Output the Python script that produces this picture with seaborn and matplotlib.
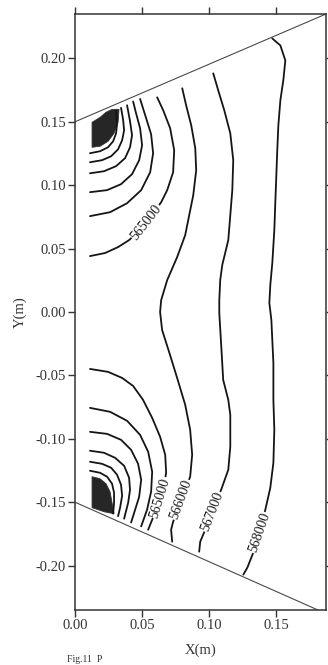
import numpy as np
import pandas as pd
import matplotlib
matplotlib.use("Agg")
import matplotlib.pyplot as plt
import seaborn as sns

# ---------------- data (data units: metres) ----------------
x_ticks = [0.00, 0.05, 0.10, 0.15]
x_tick_labels = ["0.00", "0.05", "0.10", "0.15"]
y_ticks = [-0.20, -0.15, -0.10, -0.05, 0.00, 0.05, 0.10, 0.15, 0.20]
y_tick_labels = ["-0.20", "-0.15", "-0.10", "-0.05", "0.00", "0.05", "0.10", "0.15", "0.20"]

# domain boundary (wedge)
top_edge_x = [0.0, 0.187]
top_edge_y = [0.150, 0.235]
bot_edge_x = [0.0, 0.181]
bot_edge_y = [-0.150, -0.235]

# labelled contour lines (Pa)
c565_up_x = [0.0612, 0.0657, 0.0709, 0.0739, 0.0731, 0.0687, 0.0642, 0.0575, 0.0493, 0.0403, 0.0321, 0.0224, 0.0112]
c565_up_y = [0.1693, 0.1591, 0.1449, 0.1276, 0.1102, 0.0961, 0.0866, 0.0764, 0.0661, 0.0567, 0.0512, 0.0465, 0.0441]

c565_lo_x = [0.0112, 0.0246, 0.0351, 0.0433, 0.0507, 0.0575, 0.0634, 0.0672, 0.0679, 0.0657, 0.0612, 0.0575, 0.0545]
c565_lo_y = [-0.0449, -0.0472, -0.0520, -0.0583, -0.0693, -0.0835, -0.0984, -0.1126, -0.1268, -0.1402, -0.1528, -0.1638, -0.1717]

c566_x = [0.0799, 0.0828, 0.0866, 0.0896, 0.0903, 0.0881, 0.0851, 0.0821, 0.0761, 0.0687, 0.0642, 0.0634,
          0.0649, 0.0701, 0.0761, 0.0821, 0.0858, 0.0873, 0.0858, 0.0813, 0.0769, 0.0731, 0.0716, 0.0724]
c566_y = [0.1764, 0.1630, 0.1472, 0.1291, 0.1118, 0.0921, 0.0764, 0.0606, 0.0433, 0.0252, 0.0094, 0.0,
          -0.0142, -0.0315, -0.0520, -0.0732, -0.0929, -0.1126, -0.1299, -0.1425, -0.1543, -0.1654, -0.1717, -0.1811]

c567_x = [0.1030, 0.1067, 0.1112, 0.1157, 0.1179, 0.1172, 0.1157, 0.1142, 0.1097, 0.1082, 0.1075, 0.1075,
          0.1090, 0.1104, 0.1142, 0.1157, 0.1157, 0.1142, 0.1097, 0.1052, 0.1000, 0.0955, 0.0933, 0.0925]
c567_y = [0.1882, 0.1748, 0.1591, 0.1409, 0.1197, 0.0961, 0.0764, 0.0567, 0.0370, 0.0252, 0.0094, -0.0008,
          -0.0276, -0.0535, -0.0693, -0.0811, -0.1063, -0.1244, -0.1378, -0.1504, -0.1638, -0.1756, -0.1811, -0.1890]

c568_x = [0.1470, 0.1530, 0.1567, 0.1552, 0.1530, 0.1515, 0.1507, 0.1493, 0.1485, 0.1470, 0.1455, 0.1448,
          0.1463, 0.1478, 0.1478, 0.1485, 0.1478, 0.1455, 0.1418, 0.1373, 0.1328, 0.1284, 0.1254]
c568_y = [0.2157, 0.2102, 0.1984, 0.1827, 0.1669, 0.1472, 0.1276, 0.0882, 0.0646, 0.0386, 0.0213, 0.0071,
          -0.0063, -0.0402, -0.0693, -0.0929, -0.1189, -0.1386, -0.1559, -0.1740, -0.1898, -0.2016, -0.2071]

# unlabelled inner contours around the upper source
up_a5_x = [0.0112, 0.0261, 0.0388, 0.0493, 0.0560, 0.0582, 0.0567, 0.0530, 0.0485]
up_a5_y = [0.0756, 0.0787, 0.0858, 0.0961, 0.1102, 0.1252, 0.1402, 0.1528, 0.1680]
up_a4_x = [0.0112, 0.0239, 0.0343, 0.0425, 0.0478, 0.0500, 0.0485, 0.0455, 0.0433]
up_a4_y = [0.0945, 0.0961, 0.1008, 0.1087, 0.1197, 0.1315, 0.1449, 0.1567, 0.1660]
up_a3_x = [0.0112, 0.0216, 0.0306, 0.0373, 0.0410, 0.0425, 0.0410, 0.0388]
up_a3_y = [0.1094, 0.1110, 0.1150, 0.1213, 0.1299, 0.1394, 0.1504, 0.1630]
up_a2_x = [0.0112, 0.0201, 0.0269, 0.0321, 0.0351, 0.0366, 0.0358, 0.0343]
up_a2_y = [0.1181, 0.1197, 0.1228, 0.1283, 0.1354, 0.1433, 0.1520, 0.1610]
up_a1_x = [0.0112, 0.0187, 0.0246, 0.0284, 0.0306, 0.0313, 0.0306]
up_a1_y = [0.1252, 0.1268, 0.1299, 0.1346, 0.1409, 0.1480, 0.1590]
up_core_x = [0.0127, 0.0187, 0.0231, 0.0276, 0.0328, 0.0321, 0.0291, 0.0246, 0.0187, 0.0127]
up_core_y = [0.1496, 0.1535, 0.1575, 0.1598, 0.1598, 0.1496, 0.1409, 0.1346, 0.1307, 0.1299]

# unlabelled inner contours around the lower source
lo_b5_x = [0.0112, 0.0261, 0.0388, 0.0485, 0.0545, 0.0575, 0.0567, 0.0537, 0.0493]
lo_b5_y = [-0.0756, -0.0787, -0.0858, -0.0969, -0.1102, -0.1260, -0.1417, -0.1559, -0.1690]
lo_b4_x = [0.0112, 0.0239, 0.0343, 0.0418, 0.0470, 0.0493, 0.0478, 0.0448, 0.0418]
lo_b4_y = [-0.0945, -0.0961, -0.1008, -0.1087, -0.1197, -0.1323, -0.1457, -0.1559, -0.1660]
lo_b3_x = [0.0112, 0.0216, 0.0299, 0.0366, 0.0403, 0.0410, 0.0396, 0.0366]
lo_b3_y = [-0.1094, -0.1110, -0.1150, -0.1213, -0.1307, -0.1402, -0.1504, -0.1630]
lo_b2_x = [0.0112, 0.0201, 0.0269, 0.0313, 0.0343, 0.0351, 0.0336, 0.0321]
lo_b2_y = [-0.1181, -0.1197, -0.1228, -0.1283, -0.1362, -0.1449, -0.1543, -0.1610]
lo_b1_x = [0.0112, 0.0187, 0.0239, 0.0276, 0.0291, 0.0291, 0.0284]
lo_b1_y = [-0.1252, -0.1268, -0.1299, -0.1354, -0.1425, -0.1504, -0.1590]
lo_core_x = [0.0127, 0.0187, 0.0231, 0.0261, 0.0276, 0.0291, 0.0216, 0.0127]
lo_core_y = [-0.1299, -0.1315, -0.1354, -0.1417, -0.1504, -0.1591, -0.1575, -0.1543]

# contour labels: text, anchor x, anchor y, angle
label_text = ["565000", "565000", "566000", "567000", "568000"]
label_x = [0.0530, 0.0634, 0.0791, 0.1022, 0.1373]
label_y = [0.0709, -0.1465, -0.1480, -0.1575, -0.1740]
label_angle = [52, 73, 70, 69, 71]

# ---------------- drawing ----------------
sns.set_theme(style="ticks")
plt.rcParams["font.family"] = ["Liberation Serif", "DejaVu Serif"]

fig = plt.figure(figsize=(3.28, 6.65), dpi=100)
ax = fig.add_axes([75 / 328, 55 / 665, 251 / 328, 596 / 665])

ink = "#151515"

def draw(xs, ys, lw=1.3, color=ink):
    df = pd.DataFrame({"x": xs, "y": ys})
    sns.lineplot(data=df, x="x", y="y", sort=False, estimator=None,
                 color=color, linewidth=lw, ax=ax)

# wedge boundary
draw(top_edge_x, top_edge_y, lw=0.8, color="#4a4a4a")
draw(bot_edge_x, bot_edge_y, lw=0.8, color="#4a4a4a")

# dark cores
ax.fill(up_core_x, up_core_y, color="#262626", lw=0.6, ec="#333333")
ax.fill(lo_core_x, lo_core_y, color="#262626", lw=0.6, ec="#333333")

for xs, ys in [(up_a1_x, up_a1_y), (up_a2_x, up_a2_y), (up_a3_x, up_a3_y),
               (up_a4_x, up_a4_y), (up_a5_x, up_a5_y),
               (lo_b1_x, lo_b1_y), (lo_b2_x, lo_b2_y), (lo_b3_x, lo_b3_y),
               (lo_b4_x, lo_b4_y), (lo_b5_x, lo_b5_y),
               (c565_up_x, c565_up_y), (c565_lo_x, c565_lo_y),
               (c566_x, c566_y), (c567_x, c567_y), (c568_x, c568_y)]:
    draw(xs, ys)

for t, lx, ly, ang in zip(label_text, label_x, label_y, label_angle):
    ax.text(lx, ly, t, rotation=ang, rotation_mode="anchor", ha="center", va="center",
            fontsize=10, color=ink,
            bbox=dict(boxstyle="square,pad=0.05", fc="white", ec="none"))

ax.set_xlim(0.0, 0.187)
ax.set_ylim(-0.235, 0.235)
ax.set_xticks(x_ticks)
ax.set_xticklabels(x_tick_labels)
ax.set_yticks(y_ticks)
ax.set_yticklabels(y_tick_labels)
ax.tick_params(direction="out", length=5, width=1.0, labelsize=10.5, pad=1.5,
               top=True, right=True, labeltop=False, labelright=False,
               colors="#333333", labelcolor="#333333")
for s in ax.spines.values():
    s.set_visible(True)
    s.set_linewidth(1.1)
    s.set_color("#333333")

ax.set_xlabel("X(m)", fontsize=10.5, color="#333333", labelpad=8)
ax.set_ylabel("Y(m)", fontsize=10.5, color="#333333", labelpad=6)

fig.text(67 / 328, 0.5 / 665, "Fig.11  P", fontsize=7, color="#333333", va="bottom", ha="left")

fig.savefig("out.png", dpi=100)
